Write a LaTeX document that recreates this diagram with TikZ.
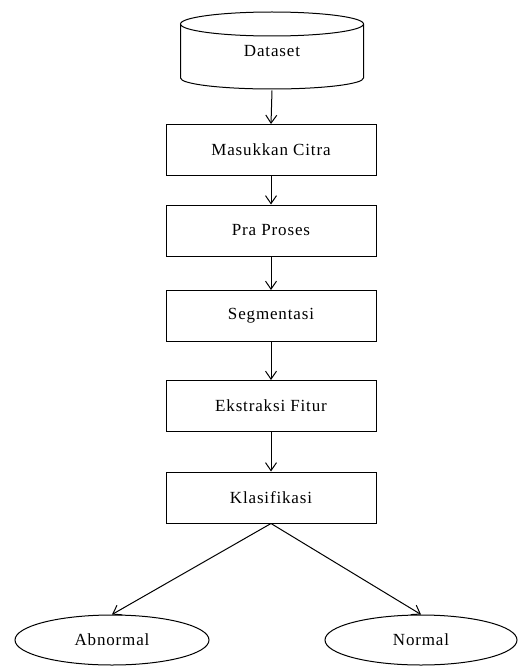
\documentclass[tikz,border=0pt]{standalone}
\usepackage{fontspec}
\setmainfont{Liberation Serif}[LetterSpace=5]
\usetikzlibrary{arrows.meta,shapes.geometric}

\begin{document}
\begin{tikzpicture}[x=1pt,y=-1pt,line width=1pt,
		every node/.style={font=\fontsize{17}{20}\selectfont},
		kotak/.style={draw,rectangle,minimum width=210pt,minimum height=51pt},
		hasil/.style={draw,ellipse,inner sep=0pt,minimum height=50pt},
		panah/.style={-{Straight Barb[length=8pt,width=11pt]}}]
	\useasboundingbox (0,0) rectangle (518,666);
	% dataset (tabung)
	\node[minimum width=183pt,minimum height=78pt] (data) at (272,51) {Dataset};
	\draw (180.5,24) -- (180.5,78) arc[start angle=180,end angle=0,x radius=91.5,y radius=11] -- (363.5,24);
	\draw (272,24) ellipse [x radius=91.5,y radius=12];
	% tahapan
	\foreach \nama/\y/\teks in {k1/150/Masukkan Citra,k2/230.5/Pra Proses,k3/316/Segmentasi,k4/406/Ekstraksi Fitur,k5/497.5/Klasifikasi} {
			\node[kotak] (\nama) at (271,\y) {\teks};
		}
	\node[hasil,minimum width=194pt] (ab) at (112,640) {Abnormal};
	\node[hasil,minimum width=192pt] (no) at (421,640) {Normal};
	\foreach \a/\b in {data/k1,k1/k2,k2/k3,k3/k4,k4/k5} {
			\draw[panah] (\a.south) -- (\b.north);
		}
	\draw[panah] (k5.south) -- (ab.north);
	\draw[panah] (k5.south) -- (no.north);
\end{tikzpicture}
\end{document}
